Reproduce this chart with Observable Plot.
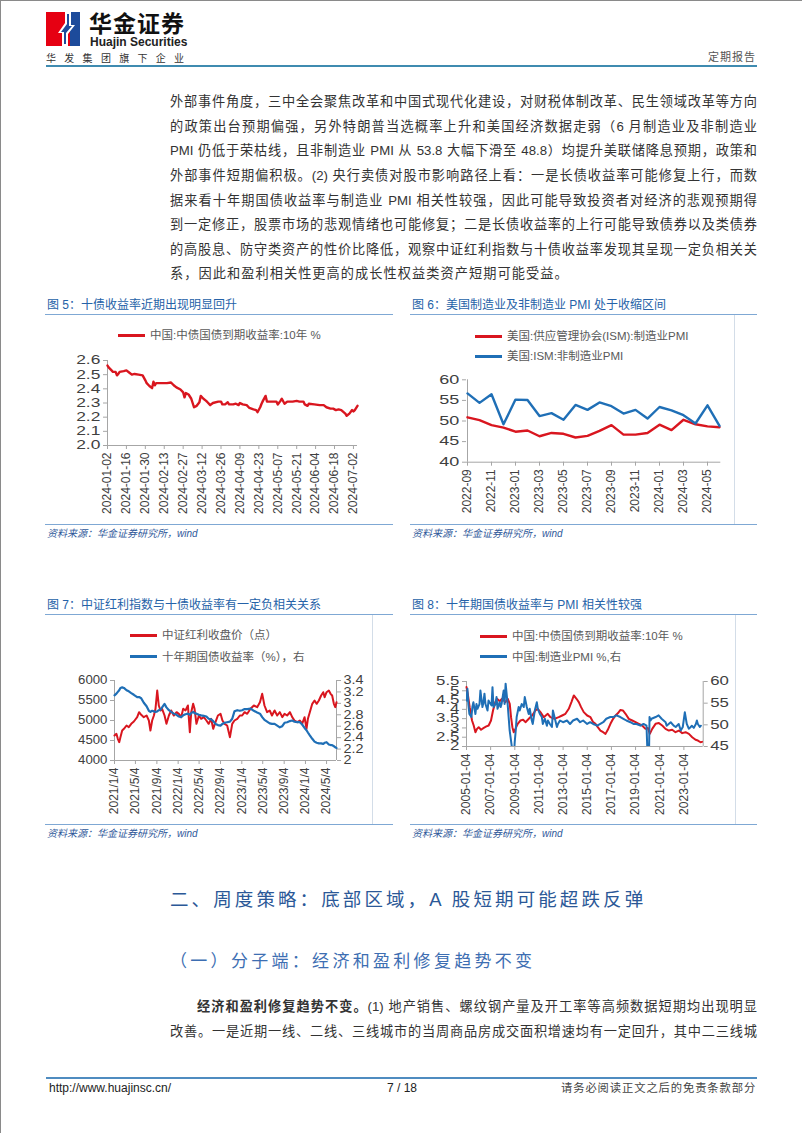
<!DOCTYPE html>
<html lang="zh">
<head>
<meta charset="utf-8">
<script src="https://cdn.jsdelivr.net/npm/d3@7"></script>
<script src="https://cdn.jsdelivr.net/npm/@observablehq/plot@0.6"></script>
<style>
html,body{margin:0;padding:0;background:#fff;}
#page{position:relative;width:802px;height:1133px;overflow:hidden;background:#fff;font-family:"Liberation Sans","Noto Sans CJK SC",sans-serif;}
#page div{position:absolute;}
</style>
</head>
<body>
<div id="page"></div>
<script>
// ---------------- DATA ----------------
// Figure 5: China 10Y government bond yield (2024)
const c5Dates = ["2024-01-02","2024-01-03","2024-01-05","2024-01-06","2024-01-08","2024-01-09","2024-01-10","2024-01-11","2024-01-14","2024-01-16","2024-01-18","2024-01-20","2024-01-22","2024-01-25","2024-01-28","2024-01-30","2024-01-31","2024-02-02","2024-02-04","2024-02-05","2024-02-06","2024-02-07","2024-02-11","2024-02-15","2024-02-18","2024-02-20","2024-02-22","2024-02-25","2024-02-27","2024-02-28","2024-02-29","2024-03-02","2024-03-04","2024-03-06","2024-03-08","2024-03-10","2024-03-11","2024-03-13","2024-03-15","2024-03-16","2024-03-18","2024-03-20","2024-03-24","2024-03-26","2024-03-27","2024-03-29","2024-03-31","2024-04-01","2024-04-04","2024-04-06","2024-04-08","2024-04-09","2024-04-11","2024-04-14","2024-04-16","2024-04-19","2024-04-21","2024-04-22","2024-04-24","2024-04-25","2024-04-26","2024-04-28","2024-04-29","2024-05-02","2024-05-06","2024-05-07","2024-05-09","2024-05-10","2024-05-12","2024-05-14","2024-05-18","2024-05-21","2024-05-23","2024-05-26","2024-05-27","2024-05-29","2024-05-30","2024-06-03","2024-06-07","2024-06-10","2024-06-12","2024-06-15","2024-06-17","2024-06-19","2024-06-21","2024-06-23","2024-06-26","2024-06-27","2024-06-29","2024-07-01","2024-07-02","2024-07-03","2024-07-05"];
const c5Yield = [2.564,2.55,2.53,2.52,2.52,2.495,2.505,2.52,2.525,2.53,2.515,2.50,2.505,2.50,2.495,2.46,2.44,2.42,2.405,2.45,2.425,2.44,2.44,2.44,2.445,2.425,2.41,2.395,2.375,2.34,2.37,2.36,2.33,2.27,2.28,2.305,2.35,2.33,2.315,2.305,2.285,2.30,2.31,2.31,2.29,2.29,2.305,2.29,2.29,2.295,2.285,2.30,2.29,2.285,2.265,2.255,2.25,2.235,2.27,2.295,2.315,2.35,2.31,2.31,2.31,2.29,2.315,2.33,2.295,2.31,2.31,2.315,2.31,2.31,2.29,2.28,2.295,2.29,2.285,2.285,2.27,2.26,2.26,2.25,2.255,2.25,2.225,2.21,2.225,2.25,2.24,2.25,2.28];
const c5XTicks = ["2024-01-02","2024-01-16","2024-01-30","2024-02-13","2024-02-27","2024-03-12","2024-03-26","2024-04-09","2024-04-23","2024-05-07","2024-05-21","2024-06-04","2024-06-18","2024-07-02"];
const c5YTicks = [2.0,2.1,2.2,2.3,2.4,2.5,2.6];

// Figure 6: US ISM PMI
const c6Months = ["2022-09","2022-10","2022-11","2022-12","2023-01","2023-02","2023-03","2023-04","2023-05","2023-06","2023-07","2023-08","2023-09","2023-10","2023-11","2023-12","2024-01","2024-02","2024-03","2024-04","2024-05","2024-06"];
const c6Mfg = [50.9,50.2,49.0,48.4,47.4,47.7,46.3,47.1,46.9,46.0,46.4,47.6,49.0,46.7,46.7,47.1,49.1,47.8,50.3,49.2,48.7,48.5];
const c6NonMfg = [56.7,54.4,56.5,49.2,55.2,55.1,51.2,51.9,50.3,53.9,52.7,54.5,53.6,51.8,52.7,50.6,53.4,52.6,51.4,49.4,53.8,48.8];
const c6XTicks = ["2022-09","2022-11","2023-01","2023-03","2023-05","2023-07","2023-09","2023-11","2024-01","2024-03","2024-05"];
const c6YTicks = [40,45,50,55,60];

// Figure 7: CSI Dividend index (left) vs 10Y yield (right)
const c7Dates = ["2021-01-04","2021-01-15","2021-01-23","2021-01-31","2021-02-07","2021-02-17","2021-02-27","2021-03-14","2021-03-27","2021-04-10","2021-04-25","2021-05-14","2021-05-25","2021-06-06","2021-06-21","2021-07-07","2021-07-20","2021-07-29","2021-08-08","2021-08-18","2021-08-27","2021-09-06","2021-09-15","2021-09-25","2021-10-04","2021-10-18","2021-10-29","2021-11-12","2021-11-25","2021-12-10","2021-12-26","2022-01-08","2022-01-21","2022-02-02","2022-02-15","2022-03-01","2022-03-12","2022-03-20","2022-03-31","2022-04-08","2022-04-19","2022-05-03","2022-05-16","2022-05-31","2022-06-15","2022-06-28","2022-07-12","2022-07-24","2022-08-06","2022-08-20","2022-09-04","2022-09-15","2022-09-27","2022-10-12","2022-10-28","2022-11-10","2022-11-23","2022-12-09","2022-12-24","2023-01-06","2023-01-20","2023-02-04","2023-02-23","2023-03-14","2023-04-02","2023-04-18","2023-05-01","2023-05-14","2023-05-29","2023-06-13","2023-06-26","2023-07-11","2023-07-26","2023-08-10","2023-08-24","2023-09-06","2023-09-21","2023-10-07","2023-10-20","2023-11-02","2023-11-18","2023-12-03","2023-12-16","2023-12-30","2024-01-10","2024-01-18","2024-01-29","2024-02-12","2024-02-25","2024-03-08","2024-03-21","2024-04-03","2024-04-15","2024-04-23","2024-05-04","2024-05-17","2024-05-27","2024-06-05","2024-06-15","2024-06-23","2024-06-30"];
const c7Index = [4625,4667,4542,4458,4583,4750,4792,4875,4833,4917,4975,5083,5208,5142,5083,5125,5000,4750,5000,5125,5292,5750,5375,5250,5292,5125,4917,5125,5250,5125,5208,5167,5083,5292,5250,5375,4708,5208,5417,5292,4917,5125,5042,5083,5000,4917,5042,4792,4958,5125,5167,5000,4917,4875,4583,4917,5000,5042,5125,5125,5208,5167,5292,5375,5333,5458,5667,5375,5208,5250,5125,5250,5125,5208,5083,5167,5125,5208,5083,5000,4958,5000,4917,5083,4792,5042,5208,5417,5500,5417,5500,5625,5708,5583,5708,5750,5667,5625,5417,5333,5458];
const c7Yield = [3.14,3.17,3.20,3.23,3.27,3.28,3.27,3.23,3.21,3.18,3.15,3.11,3.11,3.09,3.01,2.95,2.87,2.85,2.87,2.86,2.85,2.86,2.88,2.89,2.93,2.99,2.93,2.88,2.85,2.82,2.80,2.77,2.76,2.79,2.81,2.82,2.80,2.83,2.85,2.83,2.82,2.80,2.79,2.78,2.77,2.73,2.72,2.69,2.64,2.62,2.61,2.64,2.66,2.67,2.68,2.73,2.86,2.88,2.87,2.88,2.90,2.90,2.91,2.87,2.84,2.82,2.76,2.71,2.68,2.65,2.64,2.64,2.61,2.58,2.60,2.66,2.67,2.69,2.70,2.68,2.67,2.67,2.63,2.57,2.53,2.49,2.44,2.38,2.33,2.31,2.30,2.30,2.29,2.31,2.32,2.28,2.27,2.27,2.25,2.23,2.22];
const c7XTicks = ["2021-01-04","2021-05-04","2021-09-04","2022-01-04","2022-05-04","2022-09-04","2023-01-04","2023-05-04","2023-09-04","2024-01-04","2024-05-04"];
const c7LeftTicks = [4000,4500,5000,5500,6000];
const c7RightTicks = [2,2.2,2.4,2.6,2.8,3,3.2,3.4];

// Figure 8: China 10Y yield (left) vs manufacturing PMI (right)
const c8YDates = ["2005-01-04","2005-02-10","2005-04-10","2005-06-20","2005-08-10","2005-10-01","2005-11-18","2006-01-08","2006-03-20","2006-06-10","2006-08-28","2006-11-05","2007-01-15","2007-03-17","2007-05-26","2007-07-16","2007-10-04","2007-12-16","2008-03-25","2008-06-05","2008-08-04","2008-09-12","2008-10-23","2008-12-02","2009-01-22","2009-04-02","2009-06-24","2009-09-12","2009-11-22","2010-03-03","2010-06-10","2010-09-20","2010-11-28","2011-02-17","2011-05-29","2011-09-27","2011-12-16","2012-04-16","2012-08-25","2012-12-06","2013-03-15","2013-06-24","2013-09-12","2013-11-24","2014-02-13","2014-04-23","2014-07-01","2014-09-20","2015-01-01","2015-04-11","2015-07-01","2015-09-09","2015-11-18","2016-02-06","2016-04-29","2016-07-08","2016-09-16","2016-12-05","2017-02-24","2017-05-08","2017-07-16","2017-10-04","2017-12-16","2018-03-06","2018-06-14","2018-09-24","2019-01-04","2019-04-13","2019-07-22","2019-10-30","2020-01-10","2020-03-10","2020-05-21","2020-08-30","2020-12-09","2021-03-20","2021-06-28","2021-10-07","2022-01-15","2022-04-25","2022-08-07","2022-11-14","2023-02-24","2023-06-05","2023-09-13","2023-12-23","2024-03-03","2024-05-22","2024-07-05"];
const c8Yield = [5.2,4.84,4.12,3.40,3.13,2.77,2.95,3.04,2.90,3.00,3.08,3.13,3.40,3.94,4.39,4.57,4.44,4.57,4.39,4.57,4.30,3.58,3.04,2.77,2.95,3.22,3.40,3.44,3.31,3.49,3.67,3.94,4.03,3.85,3.58,3.76,3.58,3.49,3.58,3.67,3.76,4.03,4.39,4.75,4.57,4.39,4.12,3.85,3.67,3.58,3.31,3.22,3.04,2.86,2.77,2.68,2.90,3.22,3.49,3.67,3.79,3.97,3.94,3.76,3.49,3.40,3.31,3.22,3.13,2.95,3.00,2.68,2.95,3.22,3.26,3.13,2.95,2.86,2.90,2.77,2.86,2.72,2.77,2.68,2.50,2.36,2.32,2.23,2.25];
const c8PMIMonths = ["2005-01","2005-02","2005-03","2005-04","2005-06","2005-07","2005-08","2005-10","2005-11","2005-12","2006-02","2006-03","2006-05","2006-06","2006-07","2006-08","2006-10","2006-11","2006-12","2007-02","2007-03","2007-04","2007-06","2007-07","2007-08","2007-10","2007-11","2007-12","2008-02","2008-03","2008-04","2008-06","2008-07","2008-08","2008-10","2008-11","2008-12","2009-01","2009-02","2009-03","2009-05","2009-06","2009-08","2009-10","2009-11","2010-01","2010-03","2010-04","2010-06","2010-07","2010-09","2010-11","2010-12","2011-02","2011-04","2011-05","2011-07","2011-09","2011-10","2011-12","2012-02","2012-03","2012-05","2012-07","2012-08","2012-10","2013-01","2013-05","2013-08","2013-11","2014-03","2014-06","2014-09","2015-01","2015-04","2015-07","2015-11","2016-02","2016-05","2016-08","2016-12","2017-03","2017-06","2017-10","2018-01","2018-04","2018-08","2018-11","2019-02","2019-06","2019-09","2019-12","2020-02","2020-03","2020-04","2020-05","2020-09","2020-12","2021-03","2021-07","2021-08","2021-12","2022-03","2022-05","2022-08","2022-10","2022-12","2023-02","2023-04","2023-06","2023-08","2023-09","2023-11","2024-01","2024-02","2024-03","2024-05","2024-06"];
const c8PMI = [55.6,58.3,54.8,52.5,51.8,54.1,55.2,52.5,54.8,53.7,54.8,57.9,54.1,55.2,57.2,54.8,53.3,55.6,55.2,54.5,58.7,54.1,54.8,56.4,53.7,55.2,54.1,54.8,57.9,54.8,59.5,54.8,51.8,48.7,45.2,40.0,42.0,46.0,48.7,51.8,54.1,53.3,54.8,54.1,56.4,54.1,52.5,53.7,51.0,50.2,53.3,55.2,53.7,52.5,51.8,50.2,51.4,49.8,51.0,50.2,49.5,53.3,51.4,49.5,50.2,51.0,50.6,51.0,50.2,51.0,51.4,50.6,51.0,50.2,50.6,50.2,49.8,50.2,50.6,51.4,51.8,51.8,52.2,51.8,51.4,51.0,50.6,50.2,50.2,49.8,50.2,49.8,36.0,51.8,51.0,51.4,51.8,52.2,51.4,50.6,49.8,50.6,49.8,49.5,50.2,48.7,49.5,52.9,50.2,49.1,49.5,49.8,49.3,50.2,51.0,50.2,49.5,49.8];
const c8XTicks = ["2005-01-04","2007-01-04","2009-01-04","2011-01-04","2013-01-04","2015-01-04","2017-01-04","2019-01-04","2021-01-04","2023-01-04"];
const c8LeftTicks = [2,2.5,3,3.5,4,4.5,5,5.5];
const c8RightTicks = [45,50,55,60];

// Page text
const paraLines = [
 "外部事件角度，三中全会聚焦改革和中国式现代化建设，对财税体制改革、民生领域改革等方向",
 "的政策出台预期偏强，另外特朗普当选概率上升和美国经济数据走弱（6 月制造业及非制造业",
 "PMI 仍低于荣枯线，且非制造业 PMI 从 53.8 大幅下滑至 48.8）均提升美联储降息预期，政策和",
 "外部事件短期偏积极。(2) 央行卖债对股市影响路径上看：一是长债收益率可能修复上行，而数",
 "据来看十年期国债收益率与制造业 PMI 相关性较强，因此可能导致投资者对经济的悲观预期得",
 "到一定修正，股票市场的悲观情绪也可能修复；二是长债收益率的上行可能导致债券以及类债券",
 "的高股息、防守类资产的性价比降低，观察中证红利指数与十债收益率发现其呈现一定负相关关",
 "系，因此和盈利相关性更高的成长性权益类资产短期可能受益。"
];

// ---------------- HELPERS ----------------
const page = document.getElementById("page");
const FONT = "Liberation Sans, Arial, Noto Sans CJK SC, sans-serif";
const AX = "#a6a6a6", LBL = "#404040", RED = "#d9161f", BLUE = "#1f6fb6";
const TITLE = "#2562a8", RULE = "#7fa8d4", SRC = "#30599a";
const parse = d3.utcParse("%Y-%m-%d");
const parseM = d3.utcParse("%Y-%m");

function box(x, y, w, h, bg) {
  const d = document.createElement("div");
  Object.assign(d.style, {left: x + "px", top: y + "px", width: w + "px", height: h + "px", background: bg});
  page.appendChild(d); return d;
}
function txt(s, x, cy, size, color, extra = {}, lhf = 1.4) {
  const d = document.createElement("div");
  const lh = Math.round(size * lhf);
  d.textContent = s;
  Object.assign(d.style, {left: x + "px", top: (cy - lh / 2) + "px", fontSize: size + "px", lineHeight: lh + "px", color, whiteSpace: "nowrap"});
  Object.assign(d.style, extra);
  page.appendChild(d); return d;
}
function mount(svg, x, y) {
  svg.style.position = "absolute"; svg.style.left = x + "px"; svg.style.top = y + "px";
  page.appendChild(svg); return svg;
}
function stretchY(svg, sl, sr) {
  const R = svg.getBoundingClientRect();
  svg.querySelectorAll('g[aria-label="y-axis tick label"] text').forEach(t => {
    const r = t.getBoundingClientRect();
    const isLeft = ((r.left + r.right) / 2 - R.left) < R.width / 2;
    const s = isLeft ? sl : sr;
    if (s === 1) return;
    const b = t.getBBox();
    const ax = isLeft ? b.x + b.width : b.x;
    t.setAttribute("transform", (t.getAttribute("transform") || "") + ` translate(${ax},0) scale(${s},1) translate(${-ax},0)`);
  });
}
const baseStyle = {fontFamily: FONT, fontSize: "12px", color: LBL, background: "none", overflow: "visible"};
const axOpts = {tickSize: 4, tickPadding: 3, stroke: AX, fill: LBL, fontSize: 12, label: null};

// ---------------- HEADER ----------------
box(0, 0, 802, 1, "#8a8a8a");
box(0, 0, 1, 1133, "#8a8a8a");
const logo = document.createElement("div");
Object.assign(logo.style, {left: "46px", top: "12px"});
logo.innerHTML = `<svg width="34" height="34" viewBox="0 0 34 34"><rect x="0" y="0" width="34" height="34" fill="#e60012"/><rect x="24" y="0" width="10" height="34" fill="#1d4b9b"/><path d="M19 0 H25 V13 L29 13 L22 22 V34 H16 V21 L12 21 L19 11 Z" fill="#fff"/><path d="M21 2 H23 V14 L26 14 L20 21 V32 H18 V20 L15 20 L21 12 Z" fill="#1d4b9b"/></svg>`;
page.appendChild(logo);
txt("华金证券", 89, 22.5, 23, "#111", {fontWeight: "bold", letterSpacing: "1px", fontFamily: "Noto Sans CJK SC"}, 1.0);
txt("Huajin Securities", 90, 42, 12, "#222", {fontWeight: "bold"}, 1.0);
txt("华发集团旗下企业", 46, 59, 10, "#333", {letterSpacing: "8.3px"});
txt("定期报告", 708, 57, 11, "#555", {letterSpacing: "1px"});
box(46, 65, 711, 2, "#3f8bb0");

// ---------------- PARAGRAPH ----------------
paraLines.forEach((s, i) => {
  const d = document.createElement("div");
  d.textContent = s;
  const last = i === paraLines.length - 1;
  Object.assign(d.style, {left: "170px", width: "587px", top: (102.5 - 12.25 + i * 24.6) + "px", fontSize: "13.2px", lineHeight: "24.5px", color: "#333", textAlign: last ? "left" : "justify", textAlignLast: last ? "left" : "justify", letterSpacing: last ? "1.05px" : "0"});
  page.appendChild(d);
});

// ---------------- FIGURE FRAMES ----------------
function frame(x0, x1, yTitle, title, borderX) {
  txt(title, x0 + 2, yTitle, 12, TITLE);
  box(x0, yTitle + 9, x1 - x0, 1, RULE);
  box(x0, yTitle + 219, x1 - x0, 1, RULE);
  txt("资料来源：华金证券研究所，wind", x0 + 2, yTitle + 229, 10, SRC, {fontStyle: "italic"});
  if (borderX) box(borderX, yTitle + 10, 1, 209, "#d3dde8");
}
frame(45, 393, 305, "图 5：十债收益率近期出现明显回升", null);
frame(410, 757, 305, "图 6：美国制造业及非制造业 PMI 处于收缩区间", 734);
frame(45, 393, 605, "图 7：中证红利指数与十债收益率有一定负相关关系", 372);
frame(410, 757, 605, "图 8：十年期国债收益率与 PMI 相关性较强", 735);

function legend(x, cy, color, label) {
  box(x, cy - 1.5, 27, 3, color);
  txt(label, x + 32, cy, 11.5, "#595959");
}
legend(118, 335, RED, "中国:中债国债到期收益率:10年 %");
legend(475, 336, RED, "美国:供应管理协会(ISM):制造业PMI");
legend(475, 356, BLUE, "美国:ISM:非制造业PMI");
legend(130, 635, RED, "中证红利收盘价（点）");
legend(130, 656.5, BLUE, "十年期国债收益率（%），右");
legend(480, 636, RED, "中国:中债国债到期收益率:10年 %");
legend(480, 656.5, BLUE, "中国:制造业PMI %,右");

// ---------------- FIGURE 5 ----------------
const d5 = c5Dates.map((d, i) => ({date: parse(d), v: c5Yield[i]}));
const svg5 = Plot.plot({
  width: 340, height: 180, marginLeft: 67, marginRight: 23, marginTop: 10, marginBottom: 85,
  style: baseStyle,
  x: {type: "utc", domain: [parse(c5Dates[0]), parse(c5Dates[c5Dates.length - 1])], label: null},
  y: {domain: [2.0, 2.6], label: null},
  marks: [
    Plot.ruleY([2.0], {stroke: AX}),
    Plot.ruleX([parse(c5Dates[0])], {stroke: AX}),
    Plot.axisY({...axOpts, ticks: c5YTicks, tickFormat: d => d.toFixed(1)}),
    Plot.axisX({...axOpts, ticks: c5XTicks.map(parse), tickFormat: d3.utcFormat("%Y-%m-%d"), tickRotate: -90}),
    Plot.line(d5, {x: "date", y: "v", stroke: RED, strokeWidth: 2.4, strokeLinejoin: "round"})
  ]
});
mount(svg5, 40, 350);
stretchY(svg5, 1.45, 1);

// ---------------- FIGURE 6 ----------------
const d6a = c6Months.map((m, i) => ({m, v: c6Mfg[i]}));
const d6b = c6Months.map((m, i) => ({m, v: c6NonMfg[i]}));
const svg6 = Plot.plot({
  width: 330, height: 155, marginLeft: 61, marginRight: 14.7, marginTop: 9.3, marginBottom: 63.3,
  style: baseStyle,
  x: {type: "point", domain: c6Months, padding: 0, label: null},
  y: {domain: [40, 60], label: null},
  marks: [
    Plot.ruleY([40], {stroke: AX}),
    Plot.ruleX([c6Months[0]], {stroke: AX}),
    Plot.axisY({...axOpts, ticks: c6YTicks}),
    Plot.axisX({...axOpts, ticks: c6XTicks, tickRotate: -90}),
    Plot.line(d6a, {x: "m", y: "v", stroke: RED, strokeWidth: 2.4}),
    Plot.line(d6b, {x: "m", y: "v", stroke: BLUE, strokeWidth: 2.4})
  ]
});
mount(svg6, 405, 370);
stretchY(svg6, 1.5, 1);

// ---------------- FIGURE 7 ----------------
const toL7 = v => c7LeftTicks[0] + (v - c7RightTicks[0]) / (c7RightTicks[c7RightTicks.length - 1] - c7RightTicks[0]) * (c7LeftTicks[c7LeftTicks.length - 1] - c7LeftTicks[0]);
const fromL7 = y => c7RightTicks[0] + (y - c7LeftTicks[0]) / (c7LeftTicks[c7LeftTicks.length - 1] - c7LeftTicks[0]) * (c7RightTicks[c7RightTicks.length - 1] - c7RightTicks[0]);
const d7 = c7Dates.map((d, i) => ({date: parse(d), a: c7Index[i], b: c7Yield[i]}));
const x7 = [parse(c7Dates[0]), parse(c7Dates[c7Dates.length - 1])];
const svg7 = Plot.plot({
  width: 332, height: 155, marginLeft: 74, marginRight: 36, marginTop: 10, marginBottom: 65,
  style: baseStyle,
  x: {type: "utc", domain: x7, label: null},
  y: {domain: [4000, 6000], label: null},
  marks: [
    Plot.ruleY([4000], {stroke: AX}),
    Plot.ruleX(x7, {stroke: AX}),
    Plot.axisY({...axOpts, ticks: c7LeftTicks, tickFormat: d => String(d)}),
    Plot.axisY({...axOpts, anchor: "right", ticks: c7RightTicks.map(toL7), tickFormat: d => String(Math.round(fromL7(d) * 10) / 10)}),
    Plot.axisX({...axOpts, ticks: c7XTicks.map(parse), tickFormat: d => `${d.getUTCFullYear()}/${d.getUTCMonth() + 1}/${d.getUTCDate()}`, tickRotate: -90}),
    Plot.line(d7, {x: "date", y: "a", stroke: RED, strokeWidth: 2}),
    Plot.line(d7, {x: "date", y: d => toL7(d.b), stroke: BLUE, strokeWidth: 2.2})
  ]
});
mount(svg7, 40, 670);
stretchY(svg7, 1.1, 1.2);

// ---------------- FIGURE 8 ----------------
const toL8 = v => c8LeftTicks[0] + (v - c8RightTicks[0]) / (c8RightTicks[c8RightTicks.length - 1] - c8RightTicks[0]) * (c8LeftTicks[c8LeftTicks.length - 1] - c8LeftTicks[0]);
const fromL8 = y => c8RightTicks[0] + (y - c8LeftTicks[0]) / (c8LeftTicks[c8LeftTicks.length - 1] - c8LeftTicks[0]) * (c8RightTicks[c8RightTicks.length - 1] - c8RightTicks[0]);
const d8a = c8YDates.map((d, i) => ({date: parse(d), v: c8Yield[i]}));
const d8b = c8PMIMonths.map((m, i) => ({date: parseM(m), v: c8PMI[i]}));
const x8 = [parse("2005-01-04"), parse("2024-08-10")];
const svg8 = Plot.plot({
  width: 330, height: 155, marginLeft: 61, marginRight: 32.3, marginTop: 11, marginBottom: 79,
  style: baseStyle,
  x: {type: "utc", domain: x8, label: null},
  y: {domain: [2, 5.5], label: null},
  marks: [
    Plot.ruleY([2], {stroke: AX}),
    Plot.ruleX(x8, {stroke: AX}),
    Plot.axisY({...axOpts, ticks: c8LeftTicks, tickFormat: d => String(d)}),
    Plot.axisY({...axOpts, anchor: "right", ticks: c8RightTicks.map(toL8), tickFormat: d => String(Math.round(fromL8(d)))}),
    Plot.axisX({...axOpts, ticks: c8XTicks.map(parse), tickFormat: d3.utcFormat("%Y-%m-%d"), tickRotate: -90}),
    Plot.line(d8a, {x: "date", y: "v", stroke: RED, strokeWidth: 2}),
    Plot.line(d8b, {x: "date", y: d => toL8(d.v), stroke: BLUE, strokeWidth: 2, clip: true})
  ]
});
mount(svg8, 405, 670);
stretchY(svg8, 1.4, 1.4);

// ---------------- SECTION HEADINGS ----------------
txt("二、周度策略：底部区域，A 股短期可能超跌反弹", 170, 900, 18.5, "#2b5897", {letterSpacing: "3.1px"});
txt("（一）分子端：经济和盈利修复趋势不变", 170, 962, 17, "#3d6eb2", {letterSpacing: "3.3px"});
const b1 = document.createElement("div");
b1.innerHTML = "<b>经济和盈利修复趋势不变。</b>(1) 地产销售、螺纹钢产量及开工率等高频数据短期均出现明显";
Object.assign(b1.style, {left: "197px", width: "560px", top: (1007 - 12.25) + "px", fontSize: "13.2px", lineHeight: "24.5px", color: "#333", textAlign: "justify", textAlignLast: "justify"});
page.appendChild(b1);
const b2 = document.createElement("div");
b2.textContent = "改善。一是近期一线、二线、三线城市的当周商品房成交面积增速均有一定回升，其中二三线城";
Object.assign(b2.style, {left: "170px", width: "587px", top: (1032 - 12.25) + "px", fontSize: "13.2px", lineHeight: "24.5px", color: "#333", textAlign: "justify", textAlignLast: "justify"});
page.appendChild(b2);

// ---------------- FOOTER ----------------
box(46, 1077, 711, 1.5, "#4f8cc0");
txt("http://www.huajinsc.cn/", 49, 1088, 12, "#222");
txt("7 / 18", 387, 1088, 12, "#222");
txt("请务必阅读正文之后的免责条款部分", 561, 1088, 11.3, "#444", {letterSpacing: "0.9px"});
</script>
</body>
</html>
